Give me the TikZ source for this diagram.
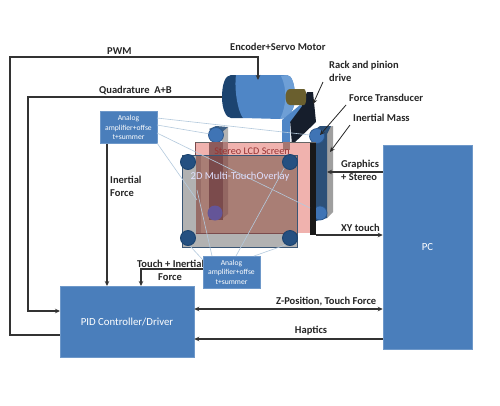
\documentclass[tikz,border=0pt]{standalone}
\usepackage{fontspec}
\setmainfont{Carlito}
\usetikzlibrary{arrows.meta}
\definecolor{boxblue}{HTML}{4A7EBB}
\definecolor{dkblue}{HTML}{1C4470}
\definecolor{midblue}{HTML}{3F74B5}
\definecolor{cylblue}{HTML}{4F86C6}
\definecolor{cyllight}{HTML}{6E9FD6}
\definecolor{wire}{HTML}{B4CADD}
\definecolor{pinkscr}{HTML}{F0B2AE}
\definecolor{brownov}{HTML}{A97E75}
\definecolor{rodred}{HTML}{7B4B4C}
\definecolor{rodside}{HTML}{936762}
\definecolor{bandgray}{HTML}{B2B2B2}
\definecolor{shaftcol}{HTML}{6A5F2E}
\definecolor{bracketcol}{HTML}{161E2C}
\definecolor{massblue}{HTML}{2C5078}
\tikzset{
  bluebox/.style={fill=boxblue,draw=boxblue!80!white,line width=.5pt,text=white,align=center,inner sep=0pt},
  lab/.style={font=\fontsize{10.5}{13}\selectfont\bfseries,text=black!85,align=left,inner sep=0pt},
  conn/.style={draw=black!80,line width=1.1pt},
  arr/.style={conn,-{Stealth[length=5pt,width=4.5pt]}},
  darr/.style={conn,{Stealth[length=5pt,width=4.5pt]}-{Stealth[length=5pt,width=4.5pt]}},
  thin arr/.style={draw=black!85,line width=.8pt,-{Stealth[length=5pt,width=4.5pt]}},
  thinwire/.style={draw=wire,line width=.6pt},
  ball/.style={circle,minimum size=15pt,inner sep=0pt,fill=midblue,draw=dkblue!60!midblue,line width=.7pt},
  dball/.style={circle,minimum size=15pt,inner sep=0pt,fill=dkblue!75!midblue,draw=dkblue,line width=.9pt}
}
\begin{document}
\begin{tikzpicture}[x=1pt,y=-1pt]
\useasboundingbox[fill=white] (0,0) rectangle (500,405);
% labels placed under boxes
\node[lab,anchor=west] (l10) at (137,264) {Touch + Inertial};
% boxes
\node[bluebox,minimum width=134pt,minimum height=71pt,font=\fontsize{10.8}{12}\selectfont] (pid) at (127,321.5) {PID Controller/Driver};
\node[bluebox,minimum width=89pt,minimum height=204pt,font=\fontsize{10.8}{12}\selectfont] (pc) at (427.5,247) {PC};
% motor
\fill[dkblue] (236,75) -- (231,75) .. controls (225,75) and (222,85) .. (222,97) .. controls (222,109) and (226,118) .. (231,118) -- (243,118) -- cycle;
\fill[cylblue] (236,75) -- (287,75) .. controls (292,75) and (295,85) .. (295,97) .. controls (295,109) and (290,118) .. (280,119) -- (243,118) .. controls (238,112) and (234,90) .. (236,75) -- cycle;
\fill[cyllight] (281,76) -- (287,75) .. controls (292,75) and (295,85) .. (295,97) .. controls (295,109) and (290,118) .. (280,119) .. controls (287,105) and (287,88) .. (281,76) -- cycle;
% bracket
\fill[bracketcol] (302,105) -- (307,92) -- (313,92) -- (316,122) -- (292,145) -- (290,120) -- cycle;
\fill[cylblue] (282,120) -- (300,105) -- (302,106) -- (290,122) -- (290,150) -- (282,143) -- cycle;
% shaft
\fill[shaftcol] (290,89) -- (304,89) .. controls (307,89) and (307,105) .. (304,105) -- (290,105) .. controls (284,105) and (284,89) .. (290,89) -- cycle;
% back rods
\fill[bandgray] (222,128) -- (228,127) -- (228,142) -- (222,142) -- cycle;
\fill[dkblue!85] (209,129) -- (216,126) -- (228,127) -- (222,132) -- (216,134) -- cycle;
\fill[gray!75] (325,130) -- (327,127) -- (333,126) -- (333,212) -- (327,218) -- cycle;
\fill[massblue] (310,133) -- (320,126) -- (331,126) -- (327,134) -- (327,218) -- (316,221) -- (316,140) -- cycle;
\node[ball] (bl) at (216,135) {};
\node[ball] (br) at (317,136) {};
\node[ball,minimum size=14pt] (br2) at (320,213) {};
% screen
\fill[pinkscr] (195,142) rectangle (310,233);
\fill[black!90] (310,142) rectangle (316,235);
\draw[black!60,line width=1pt] (195,142) -- (316,142);
% overlay
\fill[bandgray] (182,155) rectangle (297,247);
\fill[brownov] (196,155) rectangle (297,233);
\fill[rodside!80!brownov] (196,155) rectangle (201,233);
% rod seen through screen
\fill[rodside!70!pinkscr] (209,142) rectangle (228,155);
\fill[rodred] (209,155) -- (223,155) -- (223,220) -- (209,220) -- cycle;
\fill[rodside] (223,155) -- (228,155) -- (228,214) -- (223,218) -- cycle;
\fill[rodred!85!pinkscr] (209,142) rectangle (223,155);
\node[circle,minimum size=15pt,inner sep=0pt,fill=rodside!55!blue!60!gray] (bl2) at (215,213) {};
% arm through screen
\fill[rodside!80!pinkscr] (283,142) rectangle (290,150);
\draw[dkblue!70!gray,line width=.9pt] (182,155) rectangle (297,247);
\draw[rodred,line width=.8pt] (196,233) -- (297,233);
\draw[rodred,line width=.8pt] (195,142) -- (195,155);
% analog boxes
\node[bluebox,minimum width=57pt,minimum height=32pt,font=\fontsize{7.6}{9.6}\selectfont] (ta) at (128.5,127.5) {Analog\\amplifier+offse\\t+summer};
\node[bluebox,minimum width=57pt,minimum height=32pt,font=\fontsize{7.6}{9.6}\selectfont] (ba) at (231.5,272) {Analog\\amplifier+offse\\t+summer};
\coordinate (t1) at (157,118); \coordinate (t2) at (157,125); \coordinate (t3) at (157,133); \coordinate (t4) at (157,143);
\coordinate (b1) at (203,260); \coordinate (b2) at (212,256); \coordinate (b3) at (236,256); \coordinate (b4) at (254,256);
\draw[thinwire] (t1) -- (310,135);
\draw[thinwire] (t2) -- (bl);
\draw[thinwire] (t3) -- (310,208);
\draw[thinwire] (t4) -- (197,200);
\draw[thinwire] (b1) -- (190,246);
\draw[thinwire] (b2) -- (197,190);
\draw[thinwire] (b3) -- (287,163);
\draw[thinwire] (b4) -- (291,243);
\node[dball] (o1) at (188,162) {};
\node[dball] (o2) at (290,162) {};
\node[dball] (o3) at (188,238) {};
\node[dball] (o4) at (290,238) {};
% screen labels
\node[font=\fontsize{10.2}{12}\selectfont,text=red!50!black!80,inner sep=0pt] (ls) at (252,151) {Stereo LCD Screen};
\node[font=\fontsize{10.6}{12}\selectfont,text=white!88!blue,inner sep=0pt] (lo) at (240,177) {2D Multi-TouchOverlay};
% connectors
\coordinate (mtop) at (258,80);
\coordinate (mleft) at (222,97);
\coordinate (pidt1) at (107,286);
\coordinate (pidt2) at (141,286);
\coordinate (bal) at (203,269);
\draw[arr] (pid.west|-0,335) -- (10,335) -- (10,57) -- (258,57) -- (mtop);
\draw[arr] (mleft) -- (28,97) -- (28,311) -- (60,311);
\draw[arr] (ta.south-|107,0) -- (pidt1);
\draw[arr] (bal) -- (141,269) -- (pidt2);
\draw[darr] (pid.east|-0,309) -- (pc.west|-0,309);
\draw[arr] (pc.west|-0,339) -- (pid.east|-0,339);
\draw[arr] (pc.west|-0,172) -- (327,172);
\draw[arr] (316,235) -- (pc.west|-0,235);
% pointers
\coordinate (p1) at (323,82); \coordinate (p2) at (313,104);
\coordinate (p3) at (346,105); \coordinate (p4) at (320,135);
\coordinate (p5) at (350,125); \coordinate (p6) at (330,152);
\draw[thin arr] (p1) -- (p2);
\draw[thin arr] (p3) -- (p4);
\draw[thin arr] (p5) -- (p6);
% labels
\node[lab,anchor=west] (l1) at (107,51) {PWM};
\node[lab,anchor=west] (l2) at (99,90) {Quadrature\ \ A+B};
\node[lab,anchor=west] (l3) at (230,47) {Encoder+Servo Motor};
\node[lab,anchor=north west] (l4) at (329,61) {Rack and pinion\\drive};
\node[lab,anchor=west] (l5) at (349,98) {Force Transducer};
\node[lab,anchor=west] (l6) at (353,118) {Inertial Mass};
\node[lab,anchor=north west] (l7) at (341,160) {Graphics\\+ Stereo};
\node[lab,anchor=west] (l8) at (341,228) {XY touch};
\node[lab,anchor=north west] (l9) at (110,176) {Inertial\\Force};
\node[lab,anchor=center] (l11) at (170,277) {Force};
\node[lab,anchor=west] (l12) at (276,302) {Z-Position, Touch Force};
\node[lab,anchor=center] (l13) at (311,331) {Haptics};
\end{tikzpicture}
\end{document}
